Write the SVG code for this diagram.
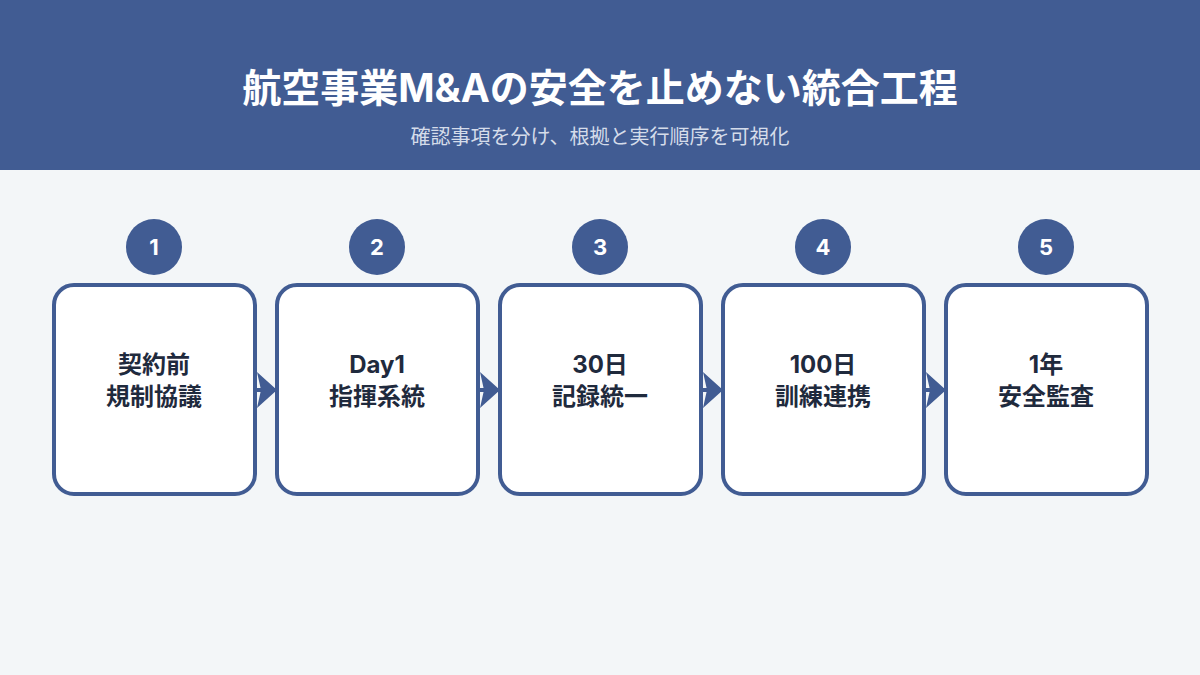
<svg xmlns="http://www.w3.org/2000/svg" width="1200" height="675" viewBox="0 0 1200 675">
<defs>
<style>
.box{fill:#fff;stroke:#415c93;stroke-width:4}
.num{fill:#415c93}
.nt{fill:#fff;font-family:Inter,"Noto Sans CJK JP",sans-serif;font-weight:700;font-size:22px;text-anchor:middle}
.lb{fill:#1f2a3d;font-family:Inter,"Noto Sans CJK JP",sans-serif;font-weight:700;font-size:24px;text-anchor:middle}
.cn{stroke:#415c93;stroke-width:4;fill:none}
</style>
<marker id="ah" markerUnits="userSpaceOnUse" markerWidth="22" markerHeight="36" refX="20" refY="18" orient="auto">
<path d="M0,0 L20,18 L0,36 L4,18 Z" fill="#415c93"/>
</marker>
</defs>
<rect width="1200" height="675" fill="#f3f6f8"/>
<rect width="1200" height="170" fill="#415c93"/>
<text x="600" y="102" fill="#fff" font-family="Inter,'Noto Sans CJK JP',sans-serif" font-weight="700" font-size="39" text-anchor="middle">航空事業M&amp;Aの安全を止めない統合工程</text>
<text x="600" y="144" fill="#d5dcea" font-family="'Noto Sans CJK JP',sans-serif" font-size="20" text-anchor="middle">確認事項を分け、根拠と実行順序を可視化</text>
<g id="connectors">
<line class="cn" x1="255" y1="390" x2="277" y2="390" marker-end="url(#ah)"/>
<line class="cn" x1="478" y1="390" x2="500" y2="390" marker-end="url(#ah)"/>
<line class="cn" x1="701" y1="390" x2="723" y2="390" marker-end="url(#ah)"/>
<line class="cn" x1="924" y1="390" x2="946" y2="390" marker-end="url(#ah)"/>
</g>
<g id="n1"><circle class="num" cx="154" cy="247" r="28"/><text class="nt" x="154" y="255">1</text><rect class="box" x="54" y="285" width="201" height="209" rx="20"/><text class="lb" x="154" y="373">契約前</text><text class="lb" x="154" y="405">規制協議</text></g>
<g id="n2"><circle class="num" cx="377" cy="247" r="28"/><text class="nt" x="377" y="255">2</text><rect class="box" x="277" y="285" width="201" height="209" rx="20"/><text class="lb" x="377" y="373">Day1</text><text class="lb" x="377" y="405">指揮系統</text></g>
<g id="n3"><circle class="num" cx="600" cy="247" r="28"/><text class="nt" x="600" y="255">3</text><rect class="box" x="500" y="285" width="201" height="209" rx="20"/><text class="lb" x="600" y="373">30日</text><text class="lb" x="600" y="405">記録統一</text></g>
<g id="n4"><circle class="num" cx="823" cy="247" r="28"/><text class="nt" x="823" y="255">4</text><rect class="box" x="723" y="285" width="201" height="209" rx="20"/><text class="lb" x="823" y="373">100日</text><text class="lb" x="823" y="405">訓練連携</text></g>
<g id="n5"><circle class="num" cx="1046" cy="247" r="28"/><text class="nt" x="1046" y="255">5</text><rect class="box" x="946" y="285" width="201" height="209" rx="20"/><text class="lb" x="1046" y="373">1年</text><text class="lb" x="1046" y="405">安全監査</text></g>
</svg>
